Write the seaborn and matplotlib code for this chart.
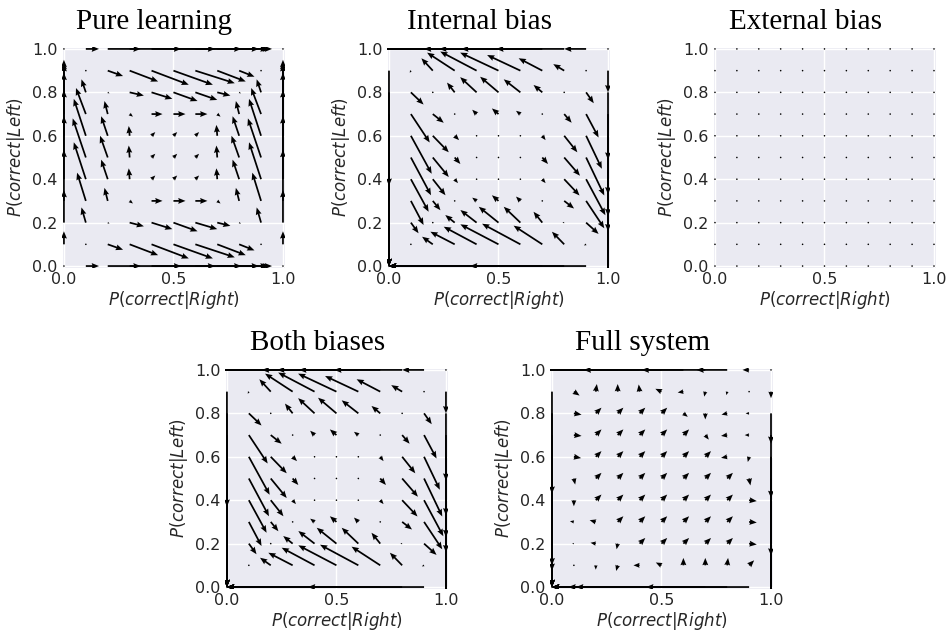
import numpy as np
import matplotlib
matplotlib.use("Agg")
import matplotlib.pyplot as plt
import seaborn as sns

# Grid of strategy probabilities (both axes)
GRID = [0.0, 0.1, 0.2, 0.3, 0.4, 0.5, 0.6, 0.7, 0.8, 0.9, 1.0]

X_TICKS = [0.0, 0.5, 1.0]
Y_TICKS = [0.0, 0.2, 0.4, 0.6, 0.8, 1.0]

TITLES = ["Pure learning", "Internal bias", "External bias", "Both biases", "Full system"]

# Velocity components; each row is one value of P(correct|Left) (0.0 .. 1.0),
# each column one value of P(correct|Right) (0.0 .. 1.0).
PURE_U = [
    [0, .06, .15, .235, .29, .31, .29, .23, .14, .05, 0],
    [0, 0, .07, .13, .17, .18, .18, .13, .07, 0, 0],
    [0, -.02, .008, .065, .095, .11, .10, .06, .008, -.02, 0],
    [0, -.04, -.015, .015, .05, .055, .055, .015, -.015, -.04, 0],
    [0, -.055, -.03, -.004, .017, .017, .017, -.004, -.03, -.055, 0],
    [0, -.06, -.035, -.004, .017, .017, .017, -.004, -.035, -.06, 0],
    [0, -.055, -.03, -.004, .017, .017, .017, -.004, -.03, -.055, 0],
    [0, -.045, -.015, .015, .05, .055, .055, .015, -.015, -.045, 0],
    [0, -.02, .008, .065, .095, .11, .10, .06, .008, -.02, 0],
    [0, 0, .07, .13, .17, .18, .18, .13, .07, 0, 0],
    [0, .06, .15, .235, .29, .31, .29, .23, .14, .05, 0],
]
PURE_V = [
    [0, 0, 0, 0, 0, 0, 0, 0, 0, 0, 0],
    [.06, 0, -.025, -.05, -.065, -.065, -.06, -.05, -.028, 0, .06],
    [.15, .07, -.005, -.017, -.03, -.04, -.03, -.015, -.005, .07, .15],
    [.235, .13, .06, -.012, 0, 0, 0, -.012, .06, .13, .235],
    [.29, .17, .09, .05, .017, .017, .017, .05, .09, .17, .29],
    [.31, .18, .10, .055, .017, .017, .017, .055, .10, .18, .31],
    [.29, .17, .09, .045, .017, .017, .017, .05, .09, .17, .29],
    [.23, .12, .06, -.012, 0, 0, 0, -.012, .06, .12, .23],
    [.14, .06, -.005, -.015, -.03, -.04, -.035, -.015, -.005, .06, .14],
    [.05, 0, -.025, -.05, -.065, -.065, -.058, -.05, -.028, 0, .05],
    [0, 0, 0, 0, 0, 0, 0, 0, 0, 0, 0],
]

INTERNAL_U = [
    [0, -.1, -.2, -.3, -.4, -.5, -.6, -.7, -.8, -.53, 0],
    [0, 0, -.049, -.111, -.15, -.174, -.175, -.131, -.056, -.01, 0],
    [0, .035, .004, -.043, -.074, -.09, -.076, -.04, -.008, .057, 0],
    [0, .058, .035, 0, -.02, -.03, -.02, 0, .045, .083, 0],
    [0, .081, .058, .015, 0, .005, 0, .015, .07, .088, 0],
    [0, .092, .073, .026, .003, 0, .003, .026, .072, .083, 0],
    [0, .095, .073, .02, 0, .005, 0, .015, .06, .072, 0],
    [0, .086, .05, 0, -.02, -.03, -.02, 0, .034, .057, 0],
    [0, .058, 0, -.035, -.075, -.084, -.076, -.04, 0, .035, 0],
    [0, -.005, -.052, -.126, -.166, -.175, -.152, -.108, -.05, 0, 0],
    [0, -.25, -.35, -.45, -.55, -.34, -.37, -.37, -.31, -.1, 0],
]
INTERNAL_V = [
    [0, 0, 0, 0, 0, 0, 0, 0, 0, 0, 0],
    [-.1, 0, .035, .058, .081, .092, .095, .086, .058, -.005, -.25],
    [-.2, -.049, -.004, .035, .058, .073, .073, .05, 0, -.052, -.35],
    [-.3, -.111, -.043, 0, .015, .026, .02, 0, -.035, -.126, -.45],
    [-.4, -.15, -.074, -.018, 0, 0, 0, -.018, -.075, -.166, -.55],
    [-.5, -.174, -.09, -.03, -.003, 0, -.003, -.03, -.084, -.175, -.34],
    [-.6, -.175, -.076, -.02, 0, 0, 0, -.02, -.076, -.152, -.37],
    [-.7, -.131, -.04, 0, .02, .026, .015, 0, -.04, -.108, -.37],
    [-.8, -.056, -.008, .045, .07, .072, .06, .034, 0, -.05, -.31],
    [-.53, -.01, .057, .083, .088, .083, .072, .057, .03, 0, -.1],
    [0, 0, 0, 0, 0, 0, 0, 0, 0, 0, 0],
]

EXTERNAL_U = [[0.0] * 11 for _ in range(11)]
EXTERNAL_V = [[0.0] * 11 for _ in range(11)]

# with a vanishing external term the combined field equals the internal one
BOTH_U = INTERNAL_U
BOTH_V = INTERNAL_V

FULL_U = [
    [0, -.1, -.2, -.3, -.4, -.5, -.6, -.625, -.69, -.47, 0],
    [0, -.005, 0, -.007, -.028, -.026, 0, 0, .004, .023, 0],
    [0, -.008, -.024, -.005, .026, .026, .026, .026, .026, .035, 0],
    [0, -.018, -.028, .026, .026, .026, .026, .026, .026, .035, 0],
    [0, 0, .026, .026, .026, .026, .026, .026, .026, .035, 0],
    [0, .006, .026, .026, .026, .026, .026, .026, .026, .006, 0],
    [0, .033, .026, .026, .026, .026, .026, .026, -.028, -.006, 0],
    [0, .035, .026, .026, .026, .026, .026, .016, -.028, -.02, 0],
    [0, .035, .026, .026, .026, .026, .02, 0, -.026, -.016, 0],
    [0, .026, .005, 0, -.004, -.028, -.026, -.005, -.004, -.004, 0],
    [0, -.2, -.3, -.4, -.5, -.6, -.455, -.29, -.14, -.03, 0],
]
FULL_V = [
    [0, 0, 0, 0, 0, 0, 0, 0, 0, 0, 0],
    [-.1, 0, -.02, -.026, 0, .013, .034, .034, .034, .023, -.2],
    [-.2, 0, .004, -.026, .026, .026, .026, .026, .026, -.004, -.3],
    [-.3, .003, .008, .026, .026, .026, .026, .026, .026, -.003, -.4],
    [-.4, -.028, .026, .026, .026, .026, .026, .026, .026, -.004, -.5],
    [-.5, -.028, .026, .026, .026, .026, .026, .026, .026, -.032, -.6],
    [-.6, -.006, .026, .026, .026, .026, .026, .026, -.005, -.024, -.455],
    [-.625, -.004, .026, .026, .026, .026, .026, -.021, -.004, 0, -.29],
    [-.7, -.006, .026, .026, .026, .026, -.016, -.028, -.006, 0, -.14],
    [-.47, -.018, .035, .035, .033, .013, -.004, -.023, -.016, -.004, -.03],
    [0, 0, 0, 0, 0, 0, 0, 0, 0, 0, 0],
]

FIELDS = [
    (PURE_U, PURE_V),
    (INTERNAL_U, INTERNAL_V),
    (EXTERNAL_U, EXTERNAL_V),
    (BOTH_U, BOTH_V),
    (FULL_U, FULL_V),
]

sns.set_theme(style="darkgrid", context="notebook")
plt.rcParams["font.family"] = ["DejaVu Sans"]

fig = plt.figure(figsize=(9.46, 6.34), dpi=100)

W, H = 0.2357, 0.3486
RECTS = [
    (0.0655, 0.5773, W, H),
    (0.4091, 0.5773, W, H),
    (0.7537, 0.5773, W, H),
    (0.2378, 0.0710, W, H),
    (0.5814, 0.0710, W, H),
]

gx, gy = np.meshgrid(GRID, GRID)

for title, (u, v), rect in zip(TITLES, FIELDS, RECTS):
    ax = fig.add_axes(rect)
    for side in ax.spines.values():
        side.set_linewidth(0.8)
    ax.quiver(gx, gy, np.asarray(u, float), np.asarray(v, float),
              angles="xy", scale_units="xy", scale=1,
              color="black", width=0.0078,
              headwidth=3.4, headlength=4.2, headaxislength=3.8,
              zorder=3)
    ax.set_xlim(-0.009, 1.009)
    ax.set_ylim(-0.009, 1.009)
    ax.set_xticks(X_TICKS)
    ax.set_yticks(Y_TICKS)
    ax.tick_params(labelsize=11.5, colors="#262626", length=0, pad=3)
    ax.set_xlabel(r"$P(correct|Right)$", fontsize=12, labelpad=1)
    ax.set_ylabel(r"$P(correct|Left)$", fontsize=12, labelpad=4)
    ax.set_title(title, fontfamily="Liberation Serif", fontsize=21,
                 color="black", pad=13, x=0.415)

fig.savefig("out.png", dpi=100)
